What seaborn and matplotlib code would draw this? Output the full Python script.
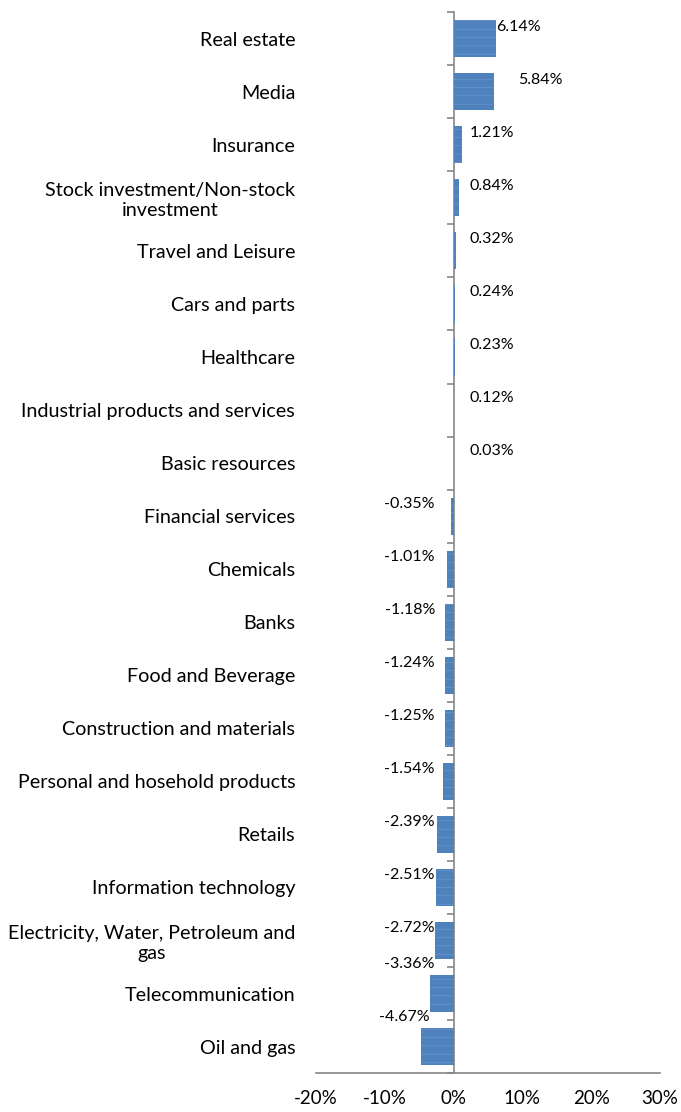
import matplotlib
matplotlib.use("Agg")
import matplotlib.pyplot as plt
import seaborn as sns
import pandas as pd
import numpy as np

sectors = [
    "Real estate", "Media", "Insurance",
    "Stock investment/Non-stock\ninvestment", "Travel and Leisure",
    "Cars and parts", "Healthcare", "Industrial products and services",
    "Basic resources", "Financial services", "Chemicals", "Banks",
    "Food and Beverage", "Construction and materials",
    "Personal and hosehold products", "Retails", "Information technology",
    "Electricity, Water, Petroleum and\ngas", "Telecommunication", "Oil and gas",
]
changes = [6.14, 5.84, 1.21, 0.84, 0.32, 0.24, 0.23, 0.12, 0.03, -0.35,
           -1.01, -1.18, -1.24, -1.25, -1.54, -2.39, -2.51, -2.72, -3.36, -4.67]
x_ticks = [-20, -10, 0, 10, 20, 30]

df = pd.DataFrame({"sector": sectors, "change": changes})

sns.set_theme(style="white")
plt.rcParams["font.family"] = ["Lato", "DejaVu Sans"]
plt.rcParams["hatch.linewidth"] = 0.4

fig = plt.figure(figsize=(6.81, 11.12), dpi=100)
ax = fig.add_axes([0.464, 0.035, 0.505, 0.954])

bar_color = "#4f81bd"
sns.barplot(data=df, y="sector", x="change", orient="h", ax=ax,
            color=bar_color, saturation=1, width=0.7, linewidth=0)
for p in ax.patches:
    p.set_hatch("--")
    p.set_edgecolor("#729ad3")
    p.set_linewidth(0)

n = len(sectors)
ax.set_xlim(x_ticks[0], x_ticks[-1])
ax.set_ylim(n - 0.5, -0.5)
ax.set_xticks(x_ticks)
ax.set_xticklabels([f"{t}%" for t in x_ticks], fontsize=13.5, color="#000000")
ax.set_xlabel("")
ax.set_ylabel("")
ax.tick_params(axis="y", length=0, pad=15, labelsize=14.2, labelcolor="#000000")
for lbl in ax.get_yticklabels():
    lbl.set_horizontalalignment("right")
    lbl.set_multialignment("center")
ax.tick_params(axis="x", direction="out", length=6, width=1.2, color="#868686", pad=6)

for side in ["left", "right", "top"]:
    ax.spines[side].set_visible(False)
ax.spines["bottom"].set_color("#868686")
ax.spines["bottom"].set_linewidth(1.2)

# vertical category axis at zero with boundary ticks
zero_frac = (0 - x_ticks[0]) / (x_ticks[-1] - x_ticks[0])
sec = ax.secondary_yaxis(zero_frac)
sec.set_yticks(np.arange(-0.5, n, 1.0))
sec.set_yticklabels([])
sec.tick_params(length=5, width=1.2, color="#868686", direction="out")
sec.spines["left"].set_color("#868686")
sec.spines["left"].set_linewidth(1.2)

# value labels
for i, v in enumerate(changes):
    if v >= 0:
        x = max(v + 0.1, 2.3)
        ha = "left"
        dy = -0.23
    else:
        x = min(v + 1.2, -2.7)
        ha = "right"
        dy = -0.23 if v > -3 else -0.55
    if i == 1:
        x = v + 3.5
    ax.text(x, i + dy, f"{v:.2f}%", ha=ha, va="center", fontsize=11.5,
            color="#000000")

fig.savefig("out.png", dpi=100, facecolor="white")
